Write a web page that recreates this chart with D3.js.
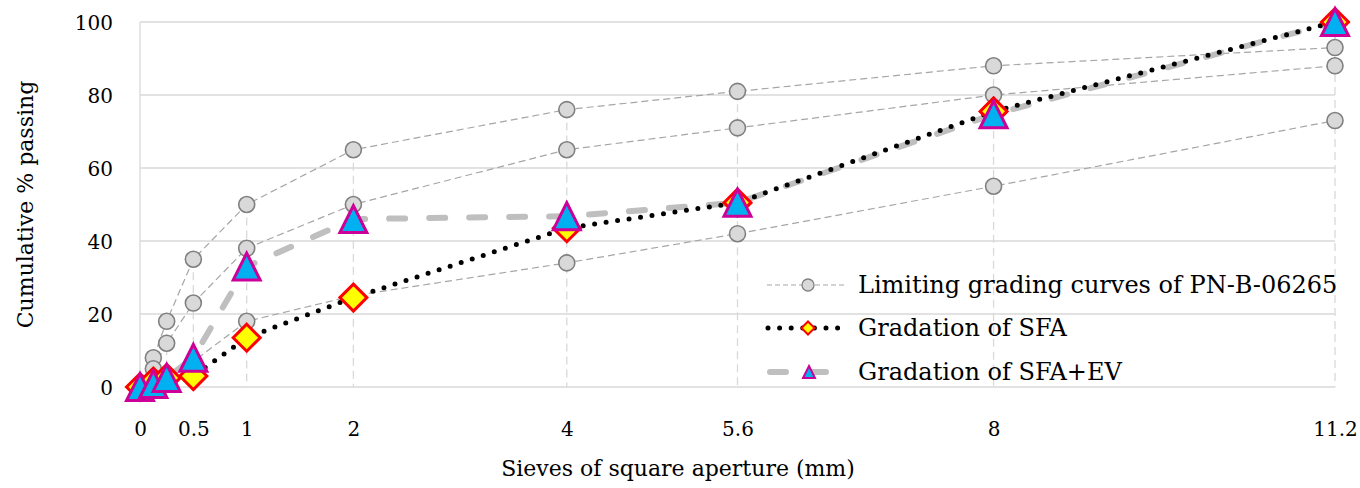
<!DOCTYPE html>
<html>
<head>
<meta charset="utf-8">
<script src="https://cdn.jsdelivr.net/npm/d3@7/dist/d3.min.js"></script>
<style>
  html, body { margin: 0; padding: 0; background: #ffffff; }
  svg { display: block; font-family: "DejaVu Serif", serif; }
</style>
</head>
<body>
<svg id="chart" width="1360" height="488"></svg>
<script>
// ---- data ----
const sieves = [0, 0.125, 0.25, 0.5, 1, 2, 4, 5.6, 8, 11.2];
const xTickValues = [0, 0.5, 1, 2, 4, 5.6, 8, 11.2];
const yTickValues = [0, 20, 40, 60, 80, 100];
const limitUpper  = [0, 8, 18, 35, 50, 65, 76, 81, 88, 93];
const limitMiddle = [0, 5, 12, 23, 38, 50, 65, 71, 80, 88];
const limitLower  = [0, 0, 2, 7, 18, 25, 34, 42, 55, 73];
const sfa   = [0, 1.5, 2.5, 3, 13.5, 24.5, 43.5, 50.5, 75.5, 100];
const sfaEv = [0, 0.8, 2.5, 8, 33, 46, 46.8, 50.5, 74.7, 100];
const legendLabels = ["Limiting grading curves of PN-B-06265", "Gradation of SFA", "Gradation of SFA+EV"];
const xTitle = "Sieves of square aperture (mm)";
const yTitle = "Cumulative % passing";

// ---- layout ----
const W = 1360, H = 488;
const margin = {left: 140, right: 25, top: 22, bottom: 101};
const svg = d3.select("#chart");
const x = d3.scaleLinear().domain([0, 11.2]).range([margin.left, W - margin.right]);
const y = d3.scaleLinear().domain([0, 100]).range([H - margin.bottom, margin.top]);

const g = svg.append("g");

// horizontal gridlines
g.append("g").selectAll("line").data(yTickValues).join("line")
  .attr("x1", x(0)).attr("x2", x(11.2))
  .attr("y1", d => y(d)).attr("y2", d => y(d))
  .attr("stroke", "#d9d9d9").attr("stroke-width", 1.3);

// left axis line
g.append("line").attr("x1", x(0)).attr("x2", x(0)).attr("y1", y(0)).attr("y2", y(100))
  .attr("stroke", "#d9d9d9").attr("stroke-width", 1.3);

// drop lines (from highest point down to axis)
const allSeries = [limitUpper, limitMiddle, limitLower, sfa, sfaEv];
const drops = sieves.map((s, i) => ({s, top: d3.max(allSeries, a => a[i])})).filter(d => d.s > 0);
g.append("g").selectAll("line").data(drops).join("line")
  .attr("x1", d => x(d.s)).attr("x2", d => x(d.s))
  .attr("y1", d => y(d.top)).attr("y2", y(0))
  .attr("stroke", "#d9d9d9").attr("stroke-width", 1.3).attr("stroke-dasharray", "8 5");

// axes labels
const yAxis = d3.axisLeft(y).tickValues(yTickValues).tickSize(0).tickPadding(0);
const yA = svg.append("g").attr("transform", `translate(113,0)`).call(yAxis);
yA.select(".domain").remove();
yA.selectAll("text").attr("font-family", "DejaVu Serif").attr("font-size", 20).attr("fill", "#000").attr("dy", "0.35em");

const xAxis = d3.axisBottom(x).tickValues(xTickValues).tickSize(0).tickPadding(0).tickFormat(d3.format("~g"));
const xA = svg.append("g").attr("transform", `translate(0,${y(0) + 42})`).call(xAxis);
xA.select(".domain").remove();
xA.selectAll("text").attr("font-family", "DejaVu Serif").attr("font-size", 20).attr("fill", "#000").attr("dy", "0.35em");

// titles
svg.append("text").attr("x", 678).attr("y", 468).attr("dy", "0.35em")
  .attr("text-anchor", "middle").attr("font-size", 22).attr("fill", "#000").text(xTitle);
svg.append("text").attr("transform", `translate(25,${(y(0) + y(100)) / 2}) rotate(-90)`)
  .attr("dy", "0.35em").attr("text-anchor", "middle").attr("font-size", 22).attr("fill", "#000").text(yTitle);

// ---- series ----
const line = d3.line().x((d, i) => x(sieves[i])).y(d => y(d));

const limitStyle = {stroke: "#a6a6a6", width: 1.2, dash: "7 4"};
[limitUpper, limitMiddle, limitLower].forEach(arr => {
  g.append("path").datum(arr).attr("d", line).attr("fill", "none")
    .attr("stroke", limitStyle.stroke).attr("stroke-width", limitStyle.width)
    .attr("stroke-dasharray", limitStyle.dash);
});
[limitUpper, limitMiddle, limitLower].forEach(arr => {
  g.append("g").selectAll("circle").data(arr.map((v, i) => [sieves[i], v]).filter(d => d[0] > 0)).join("circle")
    .attr("cx", d => x(d[0])).attr("cy", d => y(d[1])).attr("r", 8)
    .attr("fill", "#d9d9d9").attr("stroke", "#808080").attr("stroke-width", 1.6);
});

// EV line (gray dashed) under SFA dotted line
g.append("path").datum(sfaEv).attr("d", line).attr("fill", "none")
  .attr("stroke", "#bfbfbf").attr("stroke-width", 6).attr("stroke-linecap", "round")
  .attr("stroke-dasharray", "16 24");
g.append("path").datum(sfa).attr("d", line).attr("fill", "none")
  .attr("stroke", "#000").attr("stroke-width", 5).attr("stroke-linecap", "round")
  .attr("stroke-dasharray", "0 11.6");

function diamondPath(cx, cy, r) {
  return `M${cx},${cy - r}L${cx + r},${cy}L${cx},${cy + r}L${cx - r},${cy}Z`;
}
function trianglePath(cx, cy, w, h) {
  return `M${cx},${cy - h / 2}L${cx + w / 2},${cy + h / 2}L${cx - w / 2},${cy + h / 2}Z`;
}

g.append("g").selectAll("path").data(sfa.map((v, i) => [sieves[i], v])).join("path")
  .attr("d", d => diamondPath(x(d[0]), y(d[1]), 13.5))
  .attr("fill", "#ffff00").attr("stroke", "#ff0000").attr("stroke-width", 3).attr("stroke-linejoin", "miter");

g.append("g").selectAll("path").data(sfaEv.map((v, i) => [sieves[i], v])).join("path")
  .attr("d", d => trianglePath(x(d[0]), y(d[1]), 27, 27))
  .attr("fill", "#00b0f0").attr("stroke", "#cc0099").attr("stroke-width", 3).attr("stroke-linejoin", "miter");

// ---- legend ----
const lg = svg.append("g");
const lx0 = 767, lx1 = 846, lmx = 808, ltx = 858;
const rows = [285, 328, 372];
// row 1
lg.append("line").attr("x1", lx0).attr("x2", lx1).attr("y1", rows[0]).attr("y2", rows[0])
  .attr("stroke", limitStyle.stroke).attr("stroke-width", limitStyle.width).attr("stroke-dasharray", "5 3");
lg.append("circle").attr("cx", lmx).attr("cy", rows[0]).attr("r", 6)
  .attr("fill", "#d9d9d9").attr("stroke", "#808080").attr("stroke-width", 1.3);
// row 2
lg.append("line").attr("x1", lx0 + 1).attr("x2", lx1).attr("y1", rows[1]).attr("y2", rows[1])
  .attr("stroke", "#000").attr("stroke-width", 5).attr("stroke-linecap", "round").attr("stroke-dasharray", "0 11.6");
lg.append("path").attr("d", diamondPath(lmx, rows[1], 6.5))
  .attr("fill", "#ffff00").attr("stroke", "#ff0000").attr("stroke-width", 2);
// row 3
lg.append("line").attr("x1", lx0 + 3).attr("x2", lx1 - 16).attr("y1", rows[2]).attr("y2", rows[2])
  .attr("stroke", "#bfbfbf").attr("stroke-width", 6).attr("stroke-linecap", "round").attr("stroke-dasharray", "16 24");
lg.append("path").attr("d", trianglePath(lmx + 1, rows[2], 12, 12))
  .attr("fill", "#00b0f0").attr("stroke", "#cc0099").attr("stroke-width", 2);

lg.selectAll("text.lab").data(legendLabels).join("text").attr("class", "lab")
  .attr("x", ltx).attr("y", (d, i) => rows[i]).attr("dy", "0.35em")
  .attr("font-size", 24).attr("fill", "#000").text(d => d);
</script>
</body>
</html>
